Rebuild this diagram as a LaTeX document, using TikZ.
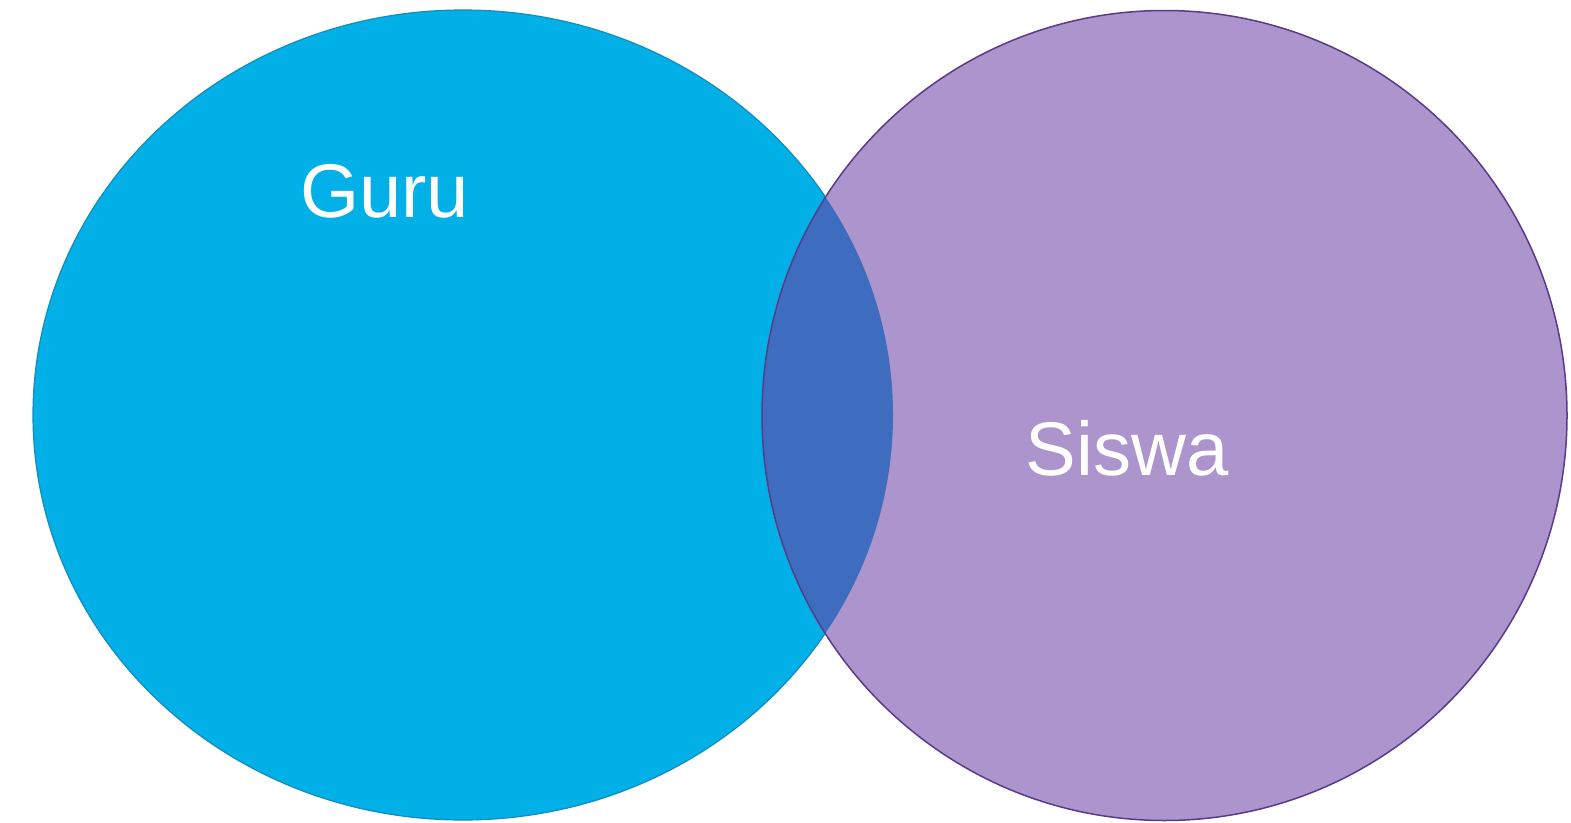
\documentclass[tikz,border=0pt]{standalone}
\usepackage{fontspec}
\setmainfont{Liberation Sans}
\definecolor{gurublue}{RGB}{0,176,230}
\definecolor{guruedge}{RGB}{20,140,190}
\definecolor{siswapurple}{RGB}{172,148,204}
\definecolor{siswaedge}{RGB}{90,58,138}
\definecolor{overlapblue}{RGB}{62,108,190}
\tikzset{
  setlabel/.style={text=white, font=\fontsize{76}{84}\selectfont, anchor=base, inner sep=0pt},
}
\begin{document}
\begin{tikzpicture}[x=1pt,y=-1pt]
  \useasboundingbox (0,0) rectangle (1571,822);
  % left set
  \fill[gurublue, draw=guruedge, line width=1.2pt] (463,415) ellipse [x radius=430, y radius=405];
  % right set
  \fill[siswapurple] (1164.5,415.5) ellipse [x radius=402.5, y radius=405];
  % intersection
  \begin{scope}
    \clip (463,415) ellipse [x radius=430, y radius=405];
    \fill[overlapblue] (1164.5,415.5) ellipse [x radius=402.5, y radius=405];
  \end{scope}
  \draw[siswaedge, line width=1.5pt] (1164.5,415.5) ellipse [x radius=402.5, y radius=405];
  \node[setlabel] (guru) at (384.5,217) {Guru};
  \node[setlabel] (siswa) at (1127,475) {Siswa};
\end{tikzpicture}
\end{document}
